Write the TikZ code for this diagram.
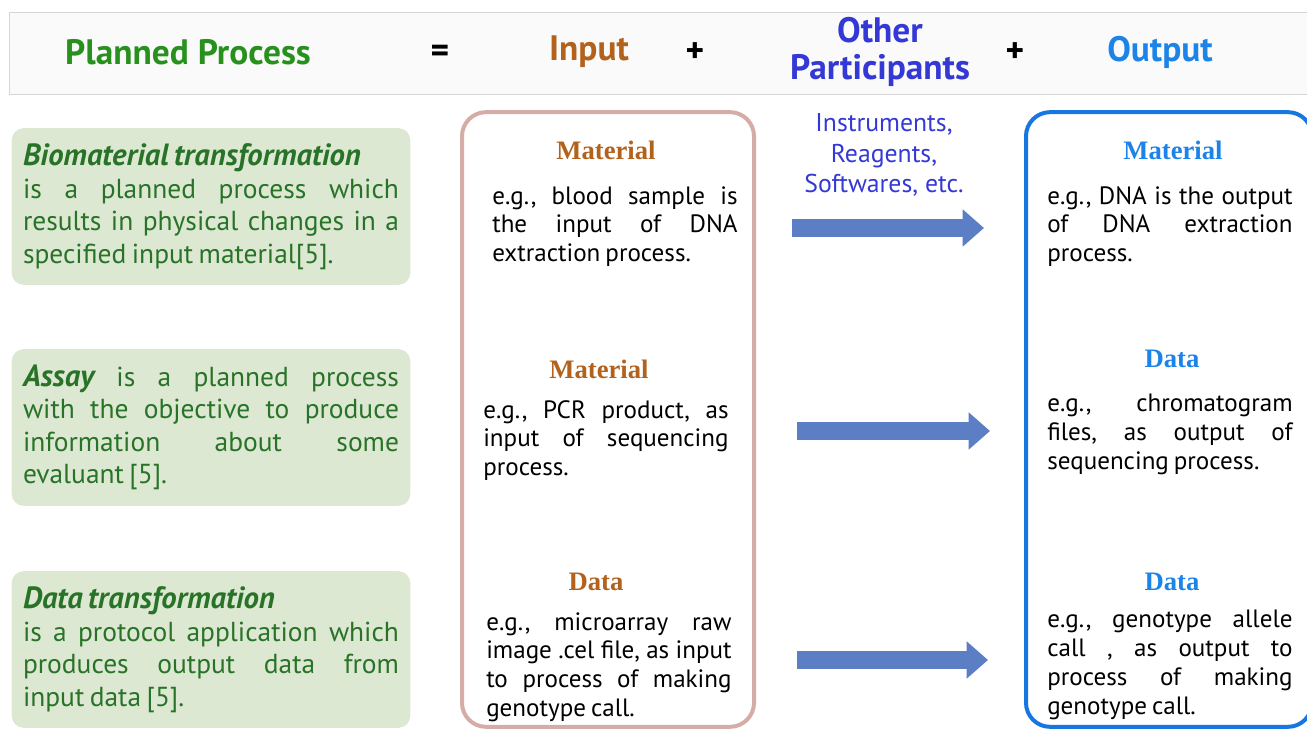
\documentclass[tikz,border=0pt]{standalone}
\usepackage{fontspec}
\setmainfont{PT Sans}
\newfontfamily\headfont{PT Sans}
\newfontfamily\kindfont{Liberation Serif}
\usetikzlibrary{positioning,arrows.meta}

\definecolor{planGreen}{RGB}{40,145,30}
\definecolor{boxGreen}{RGB}{221,232,211}
\definecolor{textGreen}{RGB}{40,115,40}
\definecolor{inBrown}{RGB}{178,98,28}
\definecolor{inBorder}{RGB}{214,172,166}
\definecolor{otherBlue}{RGB}{52,56,212}
\definecolor{outBlue}{RGB}{28,132,232}
\definecolor{outBorder}{RGB}{24,118,224}
\definecolor{arrowBlue}{RGB}{92,126,196}
\definecolor{bandGray}{RGB}{214,214,214}

\newcommand\tightspace{\spaceskip=0.2em plus 0.6em minus 0.05em\relax}
\newcommand\procname[1]{{\fontsize{23}{24.4}\selectfont\bfseries\itshape #1}}

\begin{document}
\frenchspacing
\begin{tikzpicture}[x=0.75pt,y=-0.75pt,
  title/.style={font=\headfont\bfseries\fontsize{26.5}{28}\selectfont, inner sep=0pt},
  procbox/.style={rectangle, rounded corners=9pt, fill=boxGreen, text=textGreen,
    text width=282pt, inner xsep=8.5pt, minimum width=298.5pt, minimum height=117.5pt,
    align=justify, font=\fontsize{20.6}{24.4}\selectfont\tightspace},
  colbox/.style={rectangle, rounded corners=18pt, line width=3pt,
    minimum width=219pt, minimum height=461pt},
  kind/.style={font=\kindfont\bfseries\fontsize{20}{22}\selectfont, inner sep=0pt},
  example/.style={text width=184pt, inner sep=0pt, align=justify,
    font=\fontsize{18.8}{21.6}\selectfont\tightspace},
  flow/.style={arrowBlue, line width=14pt, -{Triangle[length=16pt,width=27pt]}}]
  \useasboundingbox (0,0) rectangle (1307,730);

  % Header
  \node[rectangle, draw=bandGray, fill=white!98!black, line width=0.8pt,
    minimum width=977pt, minimum height=62pt] (band) at (661,53.5) {};
  \node[title, text=planGreen] (planned) at (188,52) {Planned Process};
  \node[title] (eq) at (440,54) {=};
  \node[title, text=inBrown] (input) at (589,52) {Input};
  \node[title] (plus1) at (695,53) {+};
  \node[title, text=otherBlue, align=center] (other) at (880,52) {Other\\Participants};
  \node[title] (plus2) at (1015,53) {+};
  \node[title, text=outBlue] (output) at (1160,52) {Output};

  % Processes
  \node[procbox] (bio) at (211,206.5) {\procname{Biomaterial transformation}\\
    is a planned process which\linebreak results in physical changes in a\linebreak specified input material[5].};
  \node[procbox] (assay) at (211,427.5) {\procname{Assay} is a planned process\linebreak
    with the objective to produce\linebreak information about some\linebreak evaluant [5].};
  \node[procbox] (datatr) at (211,649.5) {\procname{Data transformation}\\
    is a protocol application which\linebreak produces output data from\linebreak input data [5].};

  % Columns
  \node[colbox, draw=inBorder] (inbox) at (608,419.5) {};
  \node[colbox, draw=outBorder, minimum width=214.5pt] (outbox) at (1169,419.5) {};

  % Inputs
  \node[kind, text=inBrown] (inkind1) at (606,150) {Material};
  \node[example, anchor=north west] (inex1) at (492,186) {e.g., blood sample is\linebreak the input of DNA\linebreak extraction process.};
  \node[kind, text=inBrown] (inkind2) at (599,369) {Material};
  \node[example, anchor=north west] (inex2) at (483,400) {e.g., PCR product, as\linebreak input of sequencing\linebreak process.};
  \node[kind, text=inBrown] (inkind3) at (596,582) {Data};
  \node[example, anchor=north west] (inex3) at (486,612) {e.g., microarray raw\linebreak image .cel file, as input\linebreak to process of making\linebreak genotype call.};

  % Outputs
  \node[kind, text=outBlue] (outkind1) at (1173,150) {Material};
  \node[example, anchor=north west] (outex1) at (1047,186) {e.g., DNA is the output\linebreak of DNA extraction\linebreak process.};
  \node[kind, text=outBlue] (outkind2) at (1172,359) {Data};
  \node[example, anchor=north west] (outex2) at (1047,394) {e.g., chromatogram\linebreak files, as output of\linebreak sequencing process.};
  \node[kind, text=outBlue] (outkind3) at (1172,582) {Data};
  \node[example, anchor=north west] (outex3) at (1047,610) {e.g., genotype allele\linebreak call , as output to\linebreak process of making\linebreak genotype call.};

  % Other participants
  \node[text=otherBlue, align=center, inner sep=0pt,
    font=\fontsize{19.3}{23}\selectfont] (tools) at (884,155) {Instruments,\\Reagents,\\Softwares, etc.};

  % Arrows
  \coordinate (a1) at (792,228);
  \coordinate (b1) at (984,228);
  \coordinate (a2) at (797,431);
  \coordinate (b2) at (990,431);
  \coordinate (a3) at (797,660);
  \coordinate (b3) at (988,660);
  \draw[flow] (a1) -- (b1);
  \draw[flow] (a2) -- (b2);
  \draw[flow] (a3) -- (b3);
\end{tikzpicture}
\end{document}
